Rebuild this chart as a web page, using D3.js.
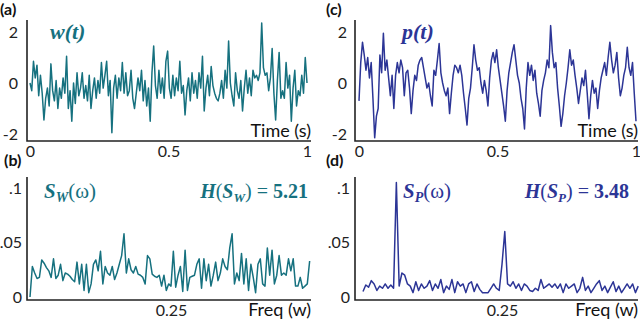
<!DOCTYPE html>
<html>
<head>
<meta charset="utf-8">
<script src="https://cdn.jsdelivr.net/npm/d3@7"></script>
<style>
  body { margin: 0; background: #fff; }
  svg text { font-family: Lato, "Open Sans", sans-serif; }
  .math { font-family: "Liberation Serif", "DejaVu Serif", serif; font-style: italic; font-weight: bold; }
</style>
</head>
<body>
<svg id="chart"></svg>
<script>
// w(t): white noise signal, 160 samples over 0..1 s
const wValues = [0.0,-0.3,0.85,0.2,0.7,-0.5,0.3,-0.4,-1.45,-0.6,-0.2,-0.9,0.75,-0.3,-0.7,0.1,-1.0,-0.2,-0.6,0.2,
  -0.4,1.05,-1.0,-0.3,-1.5,0.0,-0.8,0.4,-0.5,-0.2,0.4,-0.6,-0.1,-0.7,0.3,-1.0,-0.3,0.2,-0.6,0.1,
  -0.4,0.8,-0.2,0.3,0.85,-0.5,0.1,-1.95,-0.2,0.3,-0.6,0.2,-0.3,0.8,-0.4,0.4,-0.5,-0.3,0.5,-0.6,
  -1.0,-0.4,0.2,-0.3,0.5,-0.7,0.1,-0.9,-0.2,-1.5,0.4,1.45,-0.1,-0.6,0.5,-0.4,0.2,-0.6,0.85,1.25,
  -0.2,-0.6,0.3,-0.5,0.2,-0.3,0.85,-0.4,-0.1,-1.25,-0.3,0.2,-0.7,0.4,-0.4,0.1,-0.6,0.4,-0.2,1.05,
  -1.1,-0.2,0.3,-0.5,0.65,-0.1,-0.4,-0.6,-0.7,-0.4,0.1,-0.6,0.5,-0.2,1.65,0.0,-0.5,-0.9,0.4,-0.3,
  -0.6,0.1,-1.1,-0.2,0.5,-0.4,0.2,-0.5,0.5,0.2,0.3,0.1,0.4,2.35,0.6,0.3,0.4,-0.3,0.2,1.35,
  -0.4,-1.45,0.1,1.2,-0.6,-0.3,-0.6,0.8,-0.2,0.3,-1.5,-0.2,0.5,-0.9,-0.3,-0.5,0.3,-0.4,1.0,0.0];

// p(t): structured signal, 160 samples over 0..1 s
const pValues = [-0.7,0.8,1.6,1.1,0.5,1.0,0.2,0.8,-0.6,-2.15,-1.3,-1.0,1.1,0.4,1.95,0.5,0.9,0.2,-0.5,0.3,
  -1.0,0.3,0.8,0.4,0.9,0.6,-0.5,0.4,0.5,-0.2,-1.2,-0.3,0.3,0.1,0.7,0.9,1.0,0.6,0.2,-0.2,
  0.0,-0.5,-0.9,0.5,0.3,0.9,1.55,0.4,0.0,-0.3,-0.5,-0.2,-1.2,-0.4,0.3,0.7,0.6,0.4,0.7,0.3,
  -0.4,-1.0,-1.65,-0.6,-0.2,0.6,1.5,0.9,0.5,0.6,0.0,-0.4,0.1,-0.3,-0.9,0.2,0.9,1.2,0.8,1.3,
  0.6,0.1,-0.4,-0.9,-1.5,-0.3,0.4,0.8,1.2,1.5,0.9,0.3,0.0,-0.6,-1.0,-1.8,-0.2,0.8,0.3,0.7,
  0.1,0.5,-0.4,-0.8,-1.3,-0.3,0.1,0.4,0.9,0.6,2.25,1.2,0.6,0.8,-0.2,-0.9,-1.7,-1.2,-0.5,0.0,
  0.6,1.3,0.7,0.9,0.3,-0.2,-0.8,-0.3,0.2,-0.1,0.5,-0.4,-1.4,-0.5,0.1,-0.4,-0.2,-1.0,-0.3,0.2,
  0.5,0.8,0.3,1.0,1.6,0.9,0.4,0.7,1.2,0.2,-0.5,-0.2,0.3,0.6,1.4,0.6,0.3,0.8,-0.4,-1.5];

// S_W(omega): spectrum of w, 120 bins over 0..0.5
const swValues = [0.0,0.028,0.022,0.017,0.018,0.034,0.031,0.027,0.024,0.018,0.035,0.017,0.02,0.03,0.015,0.022,0.021,0.019,0.016,0.014,
  0.032,0.012,0.03,0.006,0.03,0.004,0.012,0.03,0.034,0.024,0.042,0.012,0.028,0.022,0.02,0.028,0.016,0.022,0.03,0.038,
  0.058,0.022,0.035,0.025,0.022,0.028,0.021,0.02,0.018,0.012,0.038,0.035,0.021,0.019,0.018,0.02,0.01,0.02,0.006,0.012,
  0.01,0.042,0.009,0.02,0.028,0.005,0.043,0.006,0.018,0.019,0.02,0.03,0.035,0.008,0.035,0.015,0.03,0.01,0.02,0.032,
  0.015,0.022,0.035,0.028,0.025,0.045,0.058,0.012,0.022,0.015,0.04,0.012,0.035,0.006,0.03,0.018,0.004,0.03,0.035,0.012,
  0.01,0.045,0.02,0.043,0.012,0.02,0.038,0.02,0.022,0.02,0.035,0.024,0.035,0.01,0.01,0.018,0.008,0.01,0.012,0.033];

// S_P(omega): spectrum of p, 100 bins over 0..0.5
const spValues = [0.005,0.011,0.009,0.015,0.012,0.006,0.01,0.008,0.012,0.008,0.011,0.008,0.105,0.01,0.022,0.02,0.012,0.01,0.004,0.014,
  0.006,0.012,0.008,0.01,0.015,0.006,0.012,0.008,0.016,0.004,0.01,0.007,0.016,0.004,0.014,0.01,0.012,0.004,0.012,0.014,
  0.005,0.012,0.007,0.004,0.004,0.004,0.008,0.012,0.008,0.006,0.03,0.06,0.012,0.01,0.014,0.008,0.012,0.006,0.012,0.01,
  0.006,0.005,0.008,0.006,0.016,0.008,0.01,0.012,0.009,0.012,0.008,0.012,0.004,0.012,0.008,0.01,0.012,0.004,0.008,0.018,
  0.006,0.01,0.004,0.008,0.012,0.015,0.006,0.01,0.004,0.009,0.014,0.005,0.01,0.004,0.008,0.012,0.008,0.012,0.004,0.01];

const timeTicks = [0, 0.5, 1];
const timeTickLabels = ["0", "0.5", "1"];
const signalTicks = [2, 0, -2];
const freqTicks = [0.25];
const specTicks = [0.1, 0.05, 0];
const specTickLabels = [".1", ".05", "0"];

const teal = "#16717f";
const navy = "#2c3596";

const svg = d3.select("#chart").attr("width", 640).attr("height", 325);

function panel(opt) {
  const g = svg.append("g");
  const x = d3.scaleLinear().domain(opt.xDomain).range(opt.xRange);
  const y = d3.scaleLinear().domain(opt.yDomain).range(opt.yRange);

  // axes: only the left and bottom lines, labels without tick marks
  g.append("path")
    .attr("d", `M${opt.axisX},${opt.axisTop}V${opt.axisY}H${opt.axisRight}`)
    .attr("fill", "none").attr("stroke", "#222").attr("stroke-width", 1.6);

  const yAxis = g.append("g").attr("transform", `translate(${opt.axisX},0)`)
    .call(d3.axisLeft(y).tickValues(opt.yTicks).tickSize(0).tickPadding(opt.yPad)
      .tickFormat((d, i) => opt.yLabels[i]));
  yAxis.select(".domain").remove();
  yAxis.selectAll("text").attr("font-size", 16).attr("fill", "#222")
    .attr("font-family", "Lato, sans-serif");

  const xAxis = g.append("g").attr("transform", `translate(0,${opt.axisY})`)
    .call(d3.axisBottom(x).tickValues(opt.xTicks).tickSize(0).tickPadding(5)
      .tickFormat((d, i) => opt.xLabels[i]));
  xAxis.select(".domain").remove();
  xAxis.selectAll("text").attr("font-size", 16).attr("fill", "#222")
    .attr("font-family", "Lato, sans-serif");

  const step = opt.step;
  const line = d3.line().x((d, i) => x(i * step)).y(d => y(d));
  g.append("path").datum(opt.values)
    .attr("d", line).attr("fill", "none")
    .attr("stroke", opt.color).attr("stroke-width", 1.5).attr("stroke-linejoin", "round");

  g.append("text").attr("x", opt.axisRight).attr("y", opt.axisY + opt.nameDy)
    .attr("text-anchor", "end").attr("font-size", 18).attr("fill", "#111")
    .text(opt.axisName);

  g.append("text").attr("x", opt.tagX).attr("y", opt.tagY)
    .attr("font-size", 16).attr("font-weight", "bold").attr("fill", "#111")
    .text(opt.tag);
  return g;
}

// (a) w(t)
const ga = panel({
  values: wValues, step: 1 / (wValues.length - 1), color: teal,
  xDomain: [0, 1], xRange: [30, 307], yDomain: [-2, 2], yRange: [134, 32],
  axisX: 27, axisTop: 20, axisY: 141, axisRight: 311,
  yTicks: signalTicks, yLabels: signalTicks.map(String), yPad: 9,
  xTicks: timeTicks, xLabels: timeTickLabels,
  axisName: "Time (s)", nameDy: -4, tag: "(a)", tagX: 0, tagY: 15
});
ga.append("text").attr("class", "math").attr("x", 50).attr("y", 39)
  .attr("font-size", 22).attr("fill", teal).text("w(t)");

// (c) p(t)
const gc = panel({
  values: pValues, step: 1 / (pValues.length - 1), color: navy,
  xDomain: [0, 1], xRange: [359, 636], yDomain: [-2, 2], yRange: [134, 32],
  axisX: 355, axisTop: 20, axisY: 141, axisRight: 638,
  yTicks: signalTicks, yLabels: signalTicks.map(String), yPad: 8,
  xTicks: timeTicks, xLabels: timeTickLabels,
  axisName: "Time (s)", nameDy: -4, tag: "(c)", tagX: 326, tagY: 15
});
gc.append("text").attr("class", "math").attr("x", 402).attr("y", 39)
  .attr("font-size", 22).attr("fill", navy).text("p(t)");

// (b) S_W(omega)
const gb = panel({
  values: swValues, step: 0.5 / swValues.length, color: teal,
  xDomain: [0, 0.5], xRange: [30, 312], yDomain: [0, 0.1], yRange: [297, 188],
  axisX: 27, axisTop: 177, axisY: 300, axisRight: 311,
  yTicks: specTicks, yLabels: specTickLabels, yPad: 5,
  xTicks: freqTicks, xLabels: ["0.25"],
  axisName: "Freq (w)", nameDy: 16, tag: "(b)", tagX: 4, tagY: 166
});

// (d) S_P(omega)
const gd = panel({
  values: spValues, step: 0.5 / spValues.length, color: navy,
  xDomain: [0, 0.5], xRange: [363, 641], yDomain: [0, 0.1], yRange: [297, 188],
  axisX: 355, axisTop: 177, axisY: 300, axisRight: 638,
  yTicks: specTicks, yLabels: specTickLabels, yPad: 5,
  xTicks: freqTicks, xLabels: ["0.25"],
  axisName: "Freq (w)", nameDy: 16, tag: "(d)", tagX: 326, tagY: 166
});

function specLabel(g, x, y, color, sub) {
  const t = g.append("text").attr("class", "math").attr("x", x).attr("y", y)
    .attr("font-size", 21).attr("fill", color);
  t.append("tspan").text("S");
  t.append("tspan").attr("font-size", 14).attr("dy", 4).text(sub);
  t.append("tspan").attr("dy", -4).attr("font-style", "normal").attr("font-weight", "normal").text("(ω)");
}
function entropyLabel(g, x, y, color, sub, val) {
  const t = g.append("text").attr("class", "math").attr("x", x).attr("y", y)
    .attr("font-size", 20).attr("fill", color).attr("text-anchor", "end");
  t.append("tspan").text("H");
  t.append("tspan").attr("font-style", "normal").attr("font-weight", "normal").text("(");
  t.append("tspan").text("S");
  t.append("tspan").attr("font-size", 13).attr("dy", 4).text(sub);
  t.append("tspan").attr("dy", -4).attr("font-style", "normal").attr("font-weight", "normal").text(") = ");
  t.append("tspan").attr("font-style", "normal").text(val);
}
specLabel(gb, 44, 198, teal, "W");
entropyLabel(gb, 308, 198, teal, "W", "5.21");
specLabel(gd, 403, 198, navy, "P");
entropyLabel(gd, 629, 198, navy, "P", "3.48");
</script>
</body>
</html>
